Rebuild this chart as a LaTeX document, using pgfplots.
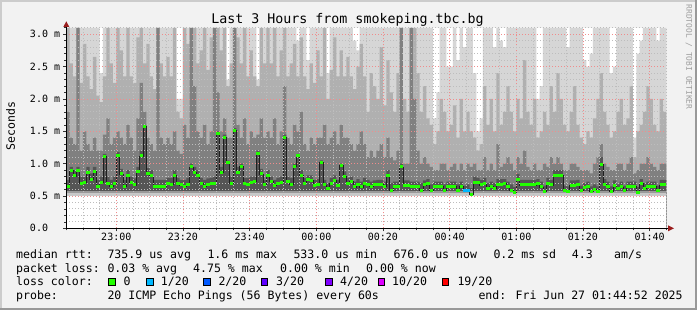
\documentclass[border=0pt]{standalone}
\usepackage{pgfplots}
\pgfplotsset{compat=1.18}
\usepackage{pgfplotstable}
\usepackage{fontspec}
\setmainfont{DejaVu Sans Mono}
\definecolor{bg}{HTML}{F2F2F2}
\definecolor{sA}{HTML}{D6D6D6}
\definecolor{sB}{HTML}{B0B0B0}
\definecolor{sC}{HTML}{808080}
\definecolor{sD}{HTML}{555555}
\definecolor{sE}{HTML}{9A9A9A}
\definecolor{sF}{HTML}{C8C8C8}
\definecolor{lgreen}{HTML}{22FF00}
\definecolor{l1}{HTML}{00B8FF}
\definecolor{l2}{HTML}{0059FF}
\definecolor{l3}{HTML}{5E00FF}
\definecolor{l4}{HTML}{7E00FF}
\definecolor{l10}{HTML}{DD00FF}
\definecolor{l19}{HTML}{FF0000}
\definecolor{arrowc}{HTML}{9A1E1E}
\definecolor{mgrid}{HTML}{F08C8C}
\definecolor{ngrid}{HTML}{BDBDBD}

\pgfplotstableread{
m top mid dark dk med
0 3.1 3.1 1.8 0.75 0.64
1 3.1 2.55 1.4 0.95 0.90
2 3.1 2.35 1.3 0.90 0.81
3 3.1 3.1 3.1 0.95 0.89
4 3.1 2.25 1.2 0.80 0.70
5 3.1 2.85 1.5 0.80 0.71
6 3.1 2.35 1.3 0.95 0.87
7 3.1 2.15 1.2 0.85 0.75
8 3.1 2.65 1.4 0.95 0.88
9 3.1 2.05 1.2 0.75 0.65
10 2.4 1.95 1.2 0.80 0.71
11 3.1 2.35 1.45 1.15 1.11
12 3.1 3.1 1.7 0.80 0.69
13 3.1 2.55 1.3 0.75 0.65
14 3.1 2.25 1.4 0.80 0.69
15 3.1 3.1 1.5 1.18 1.13
16 3.1 2.75 1.4 0.92 0.84
17 3.1 2.35 1.3 0.75 0.65
18 3.1 3.1 1.6 0.90 0.81
19 3.1 2.35 1.4 0.80 0.71
20 3.1 2.25 1.2 0.77 0.67
21 3.1 2.95 1.7 0.95 0.88
22 3.1 3.1 2.25 1.20 1.12
23 3.1 2.55 1.8 1.60 1.57
24 3.1 2.85 1.4 0.93 0.85
25 3.1 2.35 1.3 0.90 0.81
26 3.1 2.15 1.2 0.75 0.65
27 3.1 3.1 3.1 0.75 0.65
28 3.1 2.55 1.4 0.75 0.65
29 3.1 2.35 1.3 0.75 0.65
30 3.1 2.65 1.4 0.78 0.69
31 3.1 2.35 1.3 0.78 0.68
32 3.1 3.1 1.5 0.90 0.82
33 2.0 1.8 1.2 0.78 0.70
34 2.0 1.7 1.15 0.75 0.67
35 3.1 3.1 1.6 0.75 0.65
36 3.1 2.85 1.4 0.78 0.68
37 3.1 3.1 3.1 1.00 0.95
38 3.1 3.1 2.2 0.95 0.86
39 3.1 2.55 1.5 0.90 0.81
40 3.1 2.75 1.4 0.78 0.69
41 3.1 3.1 1.6 0.75 0.65
42 3.1 2.45 1.3 0.77 0.67
43 3.1 2.95 1.5 0.78 0.69
44 3.1 3.1 3.1 0.80 0.70
45 3.1 3.1 2.1 1.50 1.47
46 3.1 2.75 1.5 0.95 0.86
47 3.1 3.1 1.7 1.45 1.41
48 2.3 2.2 1.4 1.05 1.02
49 3.1 2.55 1.4 0.80 0.70
50 3.1 3.1 3.1 1.55 1.51
51 3.1 2.95 1.6 0.95 0.87
52 3.1 2.55 1.4 1.00 0.96
53 3.1 3.1 1.7 0.78 0.69
54 3.1 2.35 1.3 0.78 0.68
55 3.1 2.75 1.5 0.80 0.71
56 3.1 2.35 1.4 0.80 0.72
57 2.3 2.2 1.45 1.20 1.15
58 3.1 3.1 1.7 0.92 0.84
59 3.1 2.55 1.4 0.75 0.67
60 3.1 3.1 1.5 0.90 0.81
61 3.1 2.55 1.4 0.80 0.72
62 3.1 3.1 1.7 0.75 0.66
63 3.1 2.35 1.3 0.78 0.70
64 3.1 2.75 1.5 0.80 0.71
65 3.1 3.1 2.2 1.45 1.41
66 3.1 2.35 1.4 0.80 0.72
67 3.1 2.55 1.3 0.78 0.68
68 3.1 2.85 1.6 1.00 0.96
69 2.9 2.35 1.5 1.15 1.12
70 3.1 2.95 1.8 0.90 0.82
71 3.1 2.35 1.3 0.78 0.70
72 2.6 2.15 1.2 0.82 0.75
73 3.1 2.55 1.4 0.82 0.74
74 3.1 2.25 1.3 0.75 0.66
75 3.1 2.75 1.4 0.76 0.68
76 3.1 2.35 1.4 1.05 1.02
77 3.1 3.1 1.6 0.75 0.67
78 2.4 2.0 1.3 0.70 0.61
79 3.1 2.45 1.4 0.78 0.70
80 3.1 2.95 1.5 0.82 0.74
81 3.1 2.35 1.3 0.75 0.66
82 3.1 2.75 1.6 1.00 0.97
83 3.1 2.35 1.4 0.88 0.80
84 3.1 2.65 1.4 0.78 0.70
85 3.1 2.35 1.3 0.80 0.72
86 2.9 2.15 1.2 0.72 0.64
87 2.75 2.5 1.3 0.76 0.68
88 3.1 2.85 1.5 0.72 0.64
89 3.1 2.35 1.3 0.78 0.70
90 3.1 1.8 1.1 0.75 0.68
91 3.1 2.4 1.2 0.72 0.65
92 3.1 2.2 1.1 0.74 0.67
93 3.1 2.0 1.2 0.75 0.68
94 3.1 2.8 1.3 0.75 0.68
95 3.1 1.9 1.1 0.72 0.65
96 3.1 2.6 1.4 0.90 0.82
97 3.1 2.1 1.1 0.70 0.59
98 3.1 1.8 1.05 0.72 0.65
99 3.1 2.4 1.2 0.72 0.65
100 3.1 3.1 3.1 1.00 0.95
101 3.1 2.0 1.0 0.74 0.66
102 3.1 1.8 1.0 0.74 0.66
103 3.1 3.1 3.1 0.72 0.65
104 3.1 3.1 2.0 0.72 0.65
105 3.1 2.4 1.2 0.72 0.65
106 3.1 1.8 1.0 0.70 0.59
107 3.1 2.2 1.1 0.74 0.67
108 3.1 1.7 1.0 0.76 0.70
109 3.1 1.6 0.95 0.68 0.58
110 1.7 1.3 0.9 0.72 0.65
111 2.1 1.5 0.9 0.72 0.65
112 3.1 2.0 1.0 0.72 0.65
113 3.1 1.8 1.0 0.68 0.58
114 2.5 1.5 0.9 0.72 0.65
115 2.5 1.6 0.95 0.72 0.65
116 3.1 1.9 1.0 0.72 0.65
117 2.6 1.4 0.9 0.68 0.59
118 3.1 2.0 1.0 0.72 0.65
119 2.8 1.5 0.9 0.66 0.58
120 3.1 1.8 1.0 0.68 0.58
121 3.1 1.5 0.95 0.62 0.53
122 2.4 1.4 1.0 0.80 0.71
123 1.5 1.2 0.9 0.78 0.71
124 1.7 1.3 0.9 0.75 0.67
125 3.1 2.2 1.1 0.78 0.69
126 3.1 1.6 0.9 0.70 0.61
127 3.1 2.0 1.0 0.72 0.65
128 2.8 1.5 0.9 0.70 0.61
129 3.1 2.4 1.3 0.76 0.68
130 2.9 1.6 0.95 0.76 0.68
131 2.8 1.8 1.0 0.76 0.69
132 3.1 2.2 1.1 0.72 0.64
133 3.1 1.8 1.0 0.68 0.59
134 3.1 1.5 0.9 0.64 0.56
135 3.1 2.0 1.1 0.84 0.75
136 3.1 1.7 1.0 0.75 0.67
137 3.1 2.6 1.2 0.75 0.67
138 3.1 1.8 0.95 0.75 0.67
139 3.1 1.6 0.9 0.75 0.67
140 3.1 2.0 1.0 0.75 0.67
141 2.0 1.4 0.9 0.76 0.69
142 2.2 1.5 0.9 0.72 0.64
143 3.1 1.8 1.0 0.66 0.57
144 3.1 1.6 0.95 0.78 0.70
145 3.1 2.2 1.1 0.75 0.67
146 3.1 1.8 1.0 0.90 0.81
147 3.1 2.4 1.1 0.90 0.82
148 3.1 2.0 1.0 0.90 0.82
149 3.1 1.6 0.9 0.66 0.58
150 2.8 1.5 0.9 0.65 0.57
151 3.1 1.8 1.0 0.74 0.66
152 3.1 2.2 1.0 0.74 0.66
153 3.1 1.6 0.95 0.75 0.67
154 3.1 1.4 0.9 0.66 0.59
155 2.6 1.3 0.9 0.70 0.63
156 2.5 1.5 0.9 0.72 0.64
157 2.7 1.4 0.85 0.65 0.57
158 3.1 1.7 1.0 0.68 0.60
159 3.1 2.0 1.1 0.65 0.57
160 3.1 2.4 1.3 1.10 0.99
161 3.1 1.8 1.0 0.76 0.68
162 3.1 1.6 0.95 0.72 0.65
163 2.4 1.4 0.9 0.65 0.57
164 2.5 1.5 0.9 0.74 0.66
165 3.1 1.8 1.0 0.68 0.61
166 3.1 2.0 1.0 0.72 0.64
167 3.1 1.6 0.9 0.66 0.59
168 3.1 1.7 1.0 0.72 0.65
169 3.1 2.2 1.1 0.72 0.65
170 1.4 1.1 0.85 0.72 0.65
171 2.7 1.5 0.9 0.64 0.56
172 2.9 1.6 1.0 0.76 0.69
173 3.1 1.8 1.0 0.70 0.62
174 3.1 2.2 1.1 0.72 0.65
175 3.1 2.0 1.0 0.72 0.65
176 3.1 1.6 0.95 0.72 0.65
177 2.9 1.5 0.9 0.66 0.59
178 3.1 2.0 1.0 0.75 0.67
179 3.1 1.8 1.0 0.75 0.67
180 3.1 1.8 1.0 0.75 0.67
}\smoke

\begin{document}
\begin{tikzpicture}[x=1pt,y=1pt]
\useasboundingbox (0,0) rectangle (697,310);
\fill[bg] (0,0) rectangle (697,310);
\fill[black!20] (0,308) rectangle (697,310);
\fill[black!20] (0,0) rectangle (2,310);
\fill[black!40] (0,0) rectangle (697,2);
\fill[black!40] (695,0) rectangle (697,310);

\begin{axis}[
  at={(66.3pt,81.7pt)}, anchor=south west,
  scale only axis, width=600pt, height=200.5pt,
  xmin=0, xmax=180, ymin=0, ymax=3.1,
  axis background/.style={fill=white},
  axis line style={draw=none},
  xtick={15,35,55,75,95,115,135,155,175},
  xticklabels={23:00,23:20,23:40,00:00,00:20,00:40,01:00,01:20,01:40},
  minor xtick={0,5,...,180},
  ytick={0,0.5,1.0,1.5,2.0,2.5,3.0},
  yticklabels={0.0\hphantom{mm},0.5 m,1.0 m,1.5 m,2.0 m,2.5 m,3.0 m},
  minor ytick={0.1,0.2,0.3,0.4,0.6,0.7,0.8,0.9,1.1,1.2,1.3,1.4,1.6,1.7,1.8,1.9,2.1,2.2,2.3,2.4,2.6,2.7,2.8,2.9,3.1},
  grid=both,
  major grid style={draw=mgrid, line width=0.8pt, dash pattern=on 1pt off 2pt},
  minor grid style={draw=ngrid, line width=0.8pt, dash pattern=on 1pt off 2pt},
  xtick pos=bottom, ytick pos=left,
  tick align=outside, major tick length=3pt, minor tick length=2pt,
  tick style={draw=black!80, line width=0.6pt},
  xticklabel style={font=\fontsize{10}{12}\selectfont, inner sep=0pt, anchor=north, yshift=-2pt},
  yticklabel style={font=\fontsize{10}{12}\selectfont, inner sep=0pt, anchor=east, xshift=-3pt},
  axis on top,
]
\addplot[const plot, fill=sA, draw=none] table[x=m,y=top] {\smoke} \closedcycle;
\addplot[const plot, fill=sB, draw=none] table[x=m,y=mid] {\smoke} \closedcycle;
\addplot[const plot, fill=sC, draw=none] table[x=m,y=dark] {\smoke} \closedcycle;
\addplot[const plot, fill=sD, draw=none] table[x=m,y=dk] {\smoke} \closedcycle;
\addplot[fill=sE, draw=none] coordinates {(0,0.58) (180,0.58)} \closedcycle;
\addplot[fill=sF, draw=none] coordinates {(0,0.54) (180,0.54)} \closedcycle;
\addplot[fill=white, draw=none] coordinates {(0,0.5) (180,0.5)} \closedcycle;
\addplot[const plot, draw=black!88, line width=0.7pt] table[x=m,y=med] {\smoke};
\addplot[only marks, mark=-, mark size=1.7pt, mark options={draw=lgreen, line width=3pt},
  restrict x to domain=0:118.9] table[x expr=\thisrow{m}+0.5, y=med] {\smoke};
\addplot[only marks, mark=-, mark size=1.7pt, mark options={draw=lgreen, line width=3pt},
  restrict x to domain=120.9:180] table[x expr=\thisrow{m}+0.5, y=med] {\smoke};
\addplot[only marks, mark=-, mark size=1.7pt, mark options={draw=l1, line width=3pt},
  restrict x to domain=119:121] table[x expr=\thisrow{m}+0.5, y=med] {\smoke};
\end{axis}

% axis lines with arrows
\draw[black, line width=0.8pt] (66.3,81.7) -- (669,81.7);
\draw[black, line width=0.8pt] (66.3,81.7) -- (66.3,284);
\fill[arrowc] (674,81.7) -- (668,78.7) -- (668,84.7) -- cycle;
\fill[arrowc] (66.3,288.7) -- (63.3,283) -- (69.3,283) -- cycle;

% title and labels
\node[anchor=base, inner sep=0pt, font=\fontsize{13.3}{15}\selectfont] at (347.5,286) {Last 3 Hours from smokeping.tbc.bg};
\node[anchor=base, inner sep=0pt, rotate=90, font=\fontsize{11.5}{13}\selectfont] at (15,184) {Seconds};
\node[anchor=center, inner sep=0pt, rotate=-90, text=black!38, font=\fontsize{7.9}{9}\selectfont] at (689,253) {RRDTOOL / TOBI OETIKER};

\begin{scope}[every node/.style={anchor=base west, inner sep=0pt, font=\fontsize{11.56}{13}\selectfont}]
\node at (16,51.7) {median rtt:};
\node at (107.3,51.7) {735.9 us avg};
\node at (207.3,51.7) {1.6 ms max};
\node at (293.3,51.7) {533.0 us min};
\node at (393.3,51.7) {676.0 us now};
\node at (493.3,51.7) {0.2 ms sd};
\node at (571.7,51.7) {4.3};
\node at (614,51.7) {am/s};

\node at (16,37.7) {packet loss:};
\node at (107.3,37.7) {0.03 \% avg};
\node at (193,37.7) {4.75 \% max};
\node at (280,37.7) {0.00 \% min};
\node at (366,37.7) {0.00 \% now};

\node at (16,24.3) {loss color:};
\node at (123.3,24.3) {0};
\node at (160.7,24.3) {1/20};
\node at (218.3,24.3) {2/20};
\node at (276,24.3) {3/20};
\node at (340,24.3) {4/20};
\node at (392,24.3) {10/20};
\node at (457.3,24.3) {19/20};

\node at (16,10.3) {probe:};
\node at (107.3,10.3) {20 ICMP Echo Pings (56 Bytes) every 60s};
\node at (478.3,10.3) {end: Fri Jun 27 01:44:52 2025};
\end{scope}

\begin{scope}[draw=black, line width=0.8pt]
\filldraw[fill=lgreen] (108.7,24.7) rectangle (115.3,31.3);
\filldraw[fill=l1] (146.4,24.7) rectangle (153,31.3);
\filldraw[fill=l2] (203.7,24.7) rectangle (210.3,31.3);
\filldraw[fill=l3] (261.1,24.7) rectangle (267.7,31.3);
\filldraw[fill=l4] (325.4,24.7) rectangle (332,31.3);
\filldraw[fill=l10] (378.1,24.7) rectangle (384.7,31.3);
\filldraw[fill=l19] (442.1,24.7) rectangle (448.7,31.3);
\end{scope}
\end{tikzpicture}
\end{document}
